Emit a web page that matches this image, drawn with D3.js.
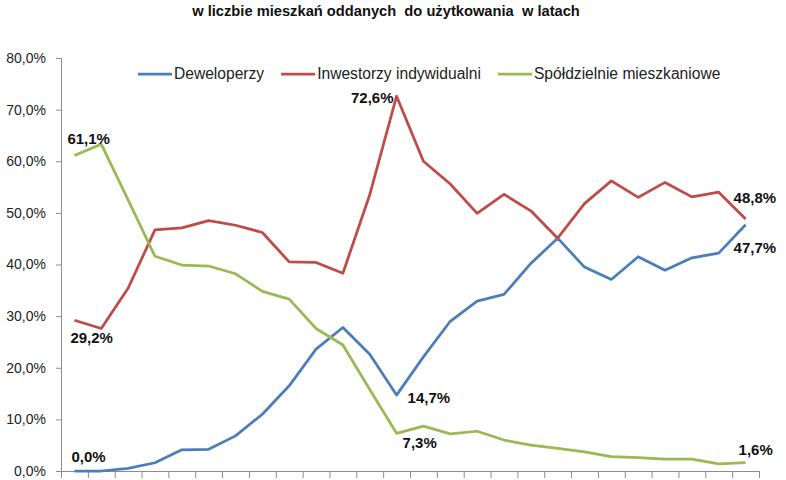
<!DOCTYPE html>
<html>
<head>
<meta charset="utf-8">
<script src="https://cdn.jsdelivr.net/npm/d3@7/dist/d3.min.js"></script>
<style>
  body { margin: 0; background: #fff; }
  svg { display: block; font-family: "Liberation Sans", Arial, sans-serif; }
</style>
</head>
<body>
<script>
// years shown on the x axis (labels cut off in the source picture)
const years = d3.range(1990, 2016);

const deweloperzy = [0.0, 0.0, 0.5, 1.6, 4.1, 4.2, 6.8, 11.0, 16.5, 23.6, 27.8, 22.6, 14.7,
  22.1, 29.0, 32.9, 34.2, 40.2, 45.1, 39.5, 37.1, 41.5, 38.9, 41.3, 42.2, 47.7];
const inwestorzy = [29.2, 27.6, 35.4, 46.7, 47.1, 48.5, 47.6, 46.2, 40.5, 40.4, 38.3, 53.5, 72.6,
  60.0, 55.6, 49.9, 53.6, 50.4, 45.1, 51.8, 56.2, 53.0, 55.9, 53.1, 54.0, 48.8];
const spoldzielnie = [61.1, 63.3, 52.5, 41.6, 39.9, 39.7, 38.2, 34.8, 33.3, 27.6, 24.4, 15.8, 7.3,
  8.7, 7.2, 7.7, 6.0, 5.0, 4.4, 3.7, 2.8, 2.6, 2.3, 2.3, 1.4, 1.6];

const yTicks = [0, 10, 20, 30, 40, 50, 60, 70, 80];
const title = "w liczbie mieszkań oddanych  do użytkowania  w latach";

const series = [
  { name: "Deweloperzy", values: deweloperzy, color: "#4a7ebb" },
  { name: "Inwestorzy indywidualni", values: inwestorzy, color: "#be4b48" },
  { name: "Spółdzielnie mieszkaniowe", values: spoldzielnie, color: "#98b954" }
];

// which points carry a value label, and where the label sits
const labels = [
  { s: 0, i: 0, dx: -3, dy: -9, anchor: "start" },
  { s: 0, i: 12, dx: 11, dy: 8, anchor: "start" },
  { s: 0, i: 25, dx: -12, dy: 28, anchor: "start" },
  { s: 1, i: 0, dx: -4, dy: 23, anchor: "start" },
  { s: 1, i: 12, dx: -3, dy: 7, anchor: "end" },
  { s: 1, i: 25, dx: -12, dy: -16, anchor: "start" },
  { s: 2, i: 0, dx: -7, dy: -12, anchor: "start" },
  { s: 2, i: 12, dx: 6, dy: 15, anchor: "start" },
  { s: 2, i: 25, dx: -7, dy: -8, anchor: "start" }
];

const width = 786, height = 480;
const margin = { top: 58, right: 27, bottom: 9, left: 61 };

const svg = d3.select("body").append("svg")
  .attr("width", width)
  .attr("height", height);

const x = d3.scaleBand()
  .domain(years)
  .range([margin.left, width - margin.right])
  .padding(0);
const xEdge = d3.scaleLinear()
  .domain([0, years.length])
  .range([margin.left, width - margin.right]);
const y = d3.scaleLinear()
  .domain([0, 80])
  .range([height - margin.bottom, margin.top]);

const fmt = (v) => d3.format(".1f")(v).replace(".", ",") + "%";

svg.append("text")
  .attr("x", 386)
  .attr("y", 16)
  .attr("text-anchor", "middle")
  .attr("font-size", 14.7)
  .attr("font-weight", "bold")
  .attr("fill", "#111")
  .style("white-space", "pre")
  .text(title);

// axes
const yAxis = svg.append("g")
  .attr("transform", "translate(" + margin.left + ",0)")
  .call(d3.axisLeft(y).tickValues(yTicks).tickFormat(fmt).tickSize(5).tickPadding(10));
yAxis.select(".domain").attr("stroke", "#8c8c8c");
yAxis.selectAll(".tick line").attr("stroke", "#8c8c8c");
yAxis.selectAll(".tick text")
  .attr("font-size", 14)
  .attr("font-family", "'Liberation Sans', Arial, sans-serif")
  .attr("fill", "#222");

const xAxis = svg.append("g")
  .attr("transform", "translate(0," + y(0) + ")")
  .call(d3.axisBottom(xEdge).tickValues(d3.range(years.length + 1)).tickFormat("").tickSize(7).tickSizeOuter(0));
xAxis.select(".domain").attr("stroke", "#8c8c8c");
xAxis.selectAll(".tick line").attr("stroke", "#8c8c8c");

// lines
const line = d3.line()
  .x((d, i) => x(years[i]) + x.bandwidth() / 2)
  .y((d) => y(d));

svg.selectAll("path.series")
  .data(series)
  .enter()
  .append("path")
  .attr("class", "series")
  .attr("fill", "none")
  .attr("stroke", (d) => d.color)
  .attr("stroke-width", 2.75)
  .attr("stroke-linejoin", "round")
  .attr("d", (d) => line(d.values));

// value labels
svg.selectAll("text.value")
  .data(labels)
  .enter()
  .append("text")
  .attr("class", "value")
  .attr("x", (d) => x(years[d.i]) + x.bandwidth() / 2 + d.dx)
  .attr("y", (d) => y(series[d.s].values[d.i]) + d.dy)
  .attr("text-anchor", (d) => d.anchor)
  .attr("font-size", 15)
  .attr("font-weight", "bold")
  .attr("fill", "#111")
  .text((d) => fmt(series[d.s].values[d.i]));

// legend
const legend = svg.append("g").attr("transform", "translate(138,74)");
let lx = 0;
series.forEach((s) => {
  const item = legend.append("g").attr("transform", "translate(" + lx + ",0)");
  item.append("line")
    .attr("x1", 0).attr("x2", 34)
    .attr("y1", 0).attr("y2", 0)
    .attr("stroke", s.color)
    .attr("stroke-width", 2.75);
  const t = item.append("text")
    .attr("x", 36)
    .attr("y", 5)
    .attr("font-size", 15.6)
    .attr("fill", "#222")
    .text(s.name);
  lx += 36 + t.node().getComputedTextLength() + 17;
});
</script>
</body>
</html>
